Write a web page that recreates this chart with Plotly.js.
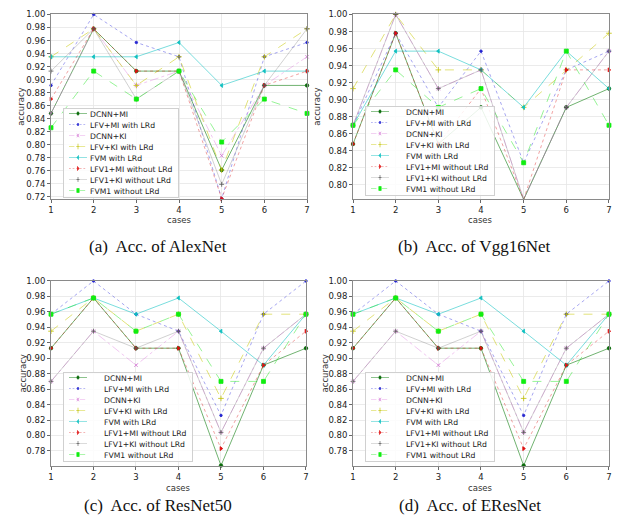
<!DOCTYPE html>
<html><head><meta charset="utf-8">
<script src="https://cdn.plot.ly/plotly-3.0.1.min.js"></script>
<style>body{margin:0;background:#fff}#chart{width:619px;height:525px}</style>
</head><body><div id="chart"></div>
<script>
// ---- data ----
const cases = [1, 2, 3, 4, 5, 6, 7];
const seriesNames = ['DCNN+MI', 'LFV+MI with LRd', 'DCNN+KI', 'LFV+KI with LRd', 'FVM with LRd',
  'LFV1+MI without LRd', 'LFV1+KI without LRd', 'FVM1 without LRd'];
const panelCaptions = ['(a)  Acc. of AlexNet', '(b)  Acc. of Vgg16Net', '(c)  Acc. of ResNet50', '(d)  Acc. of EResNet'];
const xTitle = 'cases';
const yTitle = 'accuracy';

const alexnetAcc = [
  [0.848, 0.978, 0.913, 0.913, 0.761, 0.891, 0.891],
  [0.891, 1.000, 0.957, 0.935, 0.717, 0.935, 0.957],
  [0.848, 0.978, 0.891, 0.913, 0.783, 0.891, 0.935],
  [0.935, 0.978, 0.891, 0.935, 0.761, 0.935, 0.978],
  [0.935, 0.935, 0.935, 0.957, 0.891, 0.913, 0.913],
  [0.870, 0.978, 0.913, 0.913, 0.717, 0.891, 0.913],
  [0.913, 0.978, 0.870, 0.913, 0.739, 0.891, 0.978],
  [0.826, 0.913, 0.870, 0.913, 0.804, 0.870, 0.848]
];
const vgg16Acc = [
  [0.848, 0.978, 0.848, 0.891, 0.783, 0.891, 0.913],
  [0.870, 0.978, 0.891, 0.957, 0.826, 0.935, 0.957],
  [0.870, 1.000, 0.913, 0.935, 0.783, 0.891, 0.957],
  [0.913, 1.000, 0.935, 0.935, 0.891, 0.935, 0.978],
  [0.870, 0.957, 0.957, 0.935, 0.891, 0.957, 0.913],
  [0.848, 0.978, 0.848, 0.913, 0.783, 0.935, 0.935],
  [0.870, 1.000, 0.913, 0.935, 0.783, 0.891, 0.957],
  [0.870, 0.935, 0.891, 0.913, 0.826, 0.957, 0.870]
];
const resnet50Acc = [
  [0.913, 0.978, 0.913, 0.913, 0.761, 0.891, 0.913],
  [0.957, 1.000, 0.957, 0.935, 0.826, 0.957, 1.000],
  [0.870, 0.935, 0.891, 0.935, 0.804, 0.913, 0.957],
  [0.935, 0.978, 0.935, 0.957, 0.848, 0.957, 0.957],
  [0.957, 0.978, 0.957, 0.978, 0.935, 0.891, 0.957],
  [0.913, 0.978, 0.913, 0.913, 0.783, 0.891, 0.935],
  [0.870, 0.935, 0.913, 0.935, 0.804, 0.913, 0.957],
  [0.957, 0.978, 0.935, 0.957, 0.870, 0.870, 0.957]
];
const eresnetAcc = [
  [0.913, 0.978, 0.913, 0.913, 0.761, 0.891, 0.913],
  [0.957, 1.000, 0.957, 0.935, 0.826, 0.957, 1.000],
  [0.870, 0.935, 0.891, 0.935, 0.804, 0.913, 0.957],
  [0.935, 0.978, 0.935, 0.957, 0.848, 0.957, 0.957],
  [0.957, 0.978, 0.957, 0.978, 0.935, 0.891, 0.957],
  [0.913, 0.978, 0.913, 0.913, 0.783, 0.891, 0.935],
  [0.870, 0.935, 0.913, 0.935, 0.804, 0.913, 0.957],
  [0.957, 0.978, 0.935, 0.957, 0.870, 0.870, 0.957]
];

// ---- styles ----
const lineColors = ['rgba(0,120,0,0.75)', 'rgba(40,40,220,0.55)', 'rgba(220,120,220,0.55)', 'rgba(200,200,0,0.7)',
  'rgba(0,190,190,0.7)', 'rgba(220,30,30,0.55)', 'rgba(120,120,120,0.45)', 'rgba(40,230,40,0.65)'];
const markerColors = ['#0a6a0a', '#2525d0', '#d070d0', '#c0c000', '#10c0c0', '#e01010', '#555555', '#10ee10'];
const markerSymbols = ['circle', 'circle', 'x-thin-open', 'cross-thin-open', 'triangle-left', 'triangle-right', 'cross-thin-open', 'square'];
const markerSizes = [3.5, 2.5, 3.5, 4, 3.5, 3.5, 3.5, 4];
const dashes = ['solid', 'dot', 'dashdot', 'dash', 'solid', 'dot', 'solid', 'dash'];

const panels = [alexnetAcc, vgg16Acc, resnet50Acc, eresnetAcc];
const xDomains = [[0.0824, 0.4960], [0.5703, 0.9838], [0.0824, 0.4943], [0.5703, 0.9838]];
const yDomains = [[0.6210, 0.9724], [0.6210, 0.9724], [0.1124, 0.4648], [0.1124, 0.4648]];
const yRanges = [[0.7165, 1.0], [0.7835, 1.0], [0.7605, 1.0], [0.7605, 1.0]];
const legendPx = [[63, 108], [365, 106], [63, 372], [365, 372]];
const captionPos = [[0.2553, 0.5314], [0.7660, 0.5314], [0.2553, 0.0362], [0.7600, 0.0362]];
const yTitleX = [21, 317, 23, 325];
const xTitleY = [220, 220, 487.5, 487.5];

const traces = [];
const layout = {
  width: 619, height: 525,
  margin: {l: 0, r: 0, t: 0, b: 0, autoexpand: false},
  paper_bgcolor: '#ffffff', plot_bgcolor: '#ffffff',
  font: {family: 'DejaVu Sans', size: 8.5, color: '#222'},
  annotations: []
};

panels.forEach((acc, p) => {
  const sfx = p === 0 ? '' : String(p + 1);
  acc.forEach((vals, s) => {
    traces.push({
      type: 'scatter', mode: 'lines+markers',
      x: cases, y: vals, name: seriesNames[s],
      xaxis: 'x' + sfx, yaxis: 'y' + sfx, legend: 'legend' + sfx,
      cliponaxis: false,
      line: {color: lineColors[s], width: 0.75, dash: dashes[s]},
      marker: {color: markerColors[s], symbol: markerSymbols[s], size: markerSizes[s],
        line: {color: markerColors[s], width: 0.8}}
    });
  });
  const axCommon = {
    showgrid: true, gridcolor: '#e6e6e6', gridwidth: 0.8,
    showline: true, mirror: true, linecolor: '#8a8a8a', linewidth: 1,
    ticks: 'outside', ticklen: 3, tickwidth: 0.8, tickcolor: '#444',
    zeroline: false, tickfont: {family: 'DejaVu Sans', size: 8.5, color: '#222'}
  };
  layout['xaxis' + sfx] = Object.assign({}, axCommon, {
    domain: xDomains[p], range: [1, 7], dtick: 1, tick0: 1,
    anchor: 'y' + sfx
  });
  layout['yaxis' + sfx] = Object.assign({}, axCommon, {
    domain: yDomains[p], range: yRanges[p], dtick: 0.02, tick0: 0.72, tickformat: '.2f',
    anchor: 'x' + sfx
  });
  layout['legend' + sfx] = {
    x: legendPx[p][0] / 619, y: 1 - legendPx[p][1] / 525, xanchor: 'left', yanchor: 'top',
    xref: 'paper', yref: 'paper',
    bgcolor: 'rgba(255,255,255,0.85)', bordercolor: '#d0d0d0', borderwidth: 1,
    font: {family: 'DejaVu Sans', size: 7.7, color: '#222'},
    itemwidth: 30, tracegroupgap: 0
  };
  layout.annotations.push({
    xref: 'paper', yref: 'paper', x: captionPos[p][0], y: captionPos[p][1],
    xanchor: 'center', yanchor: 'middle', showarrow: false,
    text: panelCaptions[p],
    font: {family: 'Liberation Serif', size: 17, color: '#111'}
  });
  layout.annotations.push({
    xref: 'paper', yref: 'paper', x: yTitleX[p] / 619, y: (yDomains[p][0] + yDomains[p][1]) / 2,
    xanchor: 'center', yanchor: 'middle', showarrow: false, textangle: -90,
    text: yTitle, font: {family: 'DejaVu Sans', size: 8.5, color: '#333'}
  });
  layout.annotations.push({
    xref: 'paper', yref: 'paper', x: (xDomains[p][0] + xDomains[p][1]) / 2, y: 1 - xTitleY[p] / 525,
    xanchor: 'center', yanchor: 'middle', showarrow: false,
    text: xTitle, font: {family: 'DejaVu Sans', size: 8.5, color: '#333'}
  });
});

// compact legend rows (matplotlib-like spacing) and pin legend boxes; idempotent
function compactLegends(gd) {
  const step = 11.0, top = 5.5, textX = 26;
  ['legend', 'legend2', 'legend3', 'legend4'].forEach((id, p) => {
    const lg = gd.querySelector('g.' + id);
    if (!lg) return;
    lg.setAttribute('transform', 'translate(' + legendPx[p][0] + ',' + legendPx[p][1] + ')');
    const items = lg.querySelectorAll('g.traces');
    let maxW = 0;
    items.forEach((it, i) => {
      it.setAttribute('transform', 'translate(1,' + (top + i * step) + ')');
      const layers = it.querySelector('g.layers');
      if (layers) layers.setAttribute('transform', 'translate(2,0) scale(0.6,1)');
      const txt = it.querySelector('text.legendtext');
      if (txt) {
        try {
          const bb = txt.getBBox();
          txt.setAttribute('transform', 'translate(' + (textX - bb.x) + ',0)');
          maxW = Math.max(maxW, bb.width);
        } catch (e) {}
      }
    });
    const sb = lg.querySelector('g.scrollbox');
    if (sb) sb.setAttribute('transform', 'translate(0,0)');
    const bg = lg.querySelector('rect.bg');
    if (bg) {
      bg.setAttribute('height', top + (items.length - 1) * step + 6);
      if (maxW > 0) bg.setAttribute('width', textX + maxW + 6);
    }
  });
}

Plotly.newPlot('chart', traces, layout, {staticPlot: true, displayModeBar: false}).then(gd => {
  compactLegends(gd);
  gd.on('plotly_afterplot', () => compactLegends(gd));
  setTimeout(() => compactLegends(gd), 50);
  setTimeout(() => compactLegends(gd), 300);
});
</script>
</body></html>
